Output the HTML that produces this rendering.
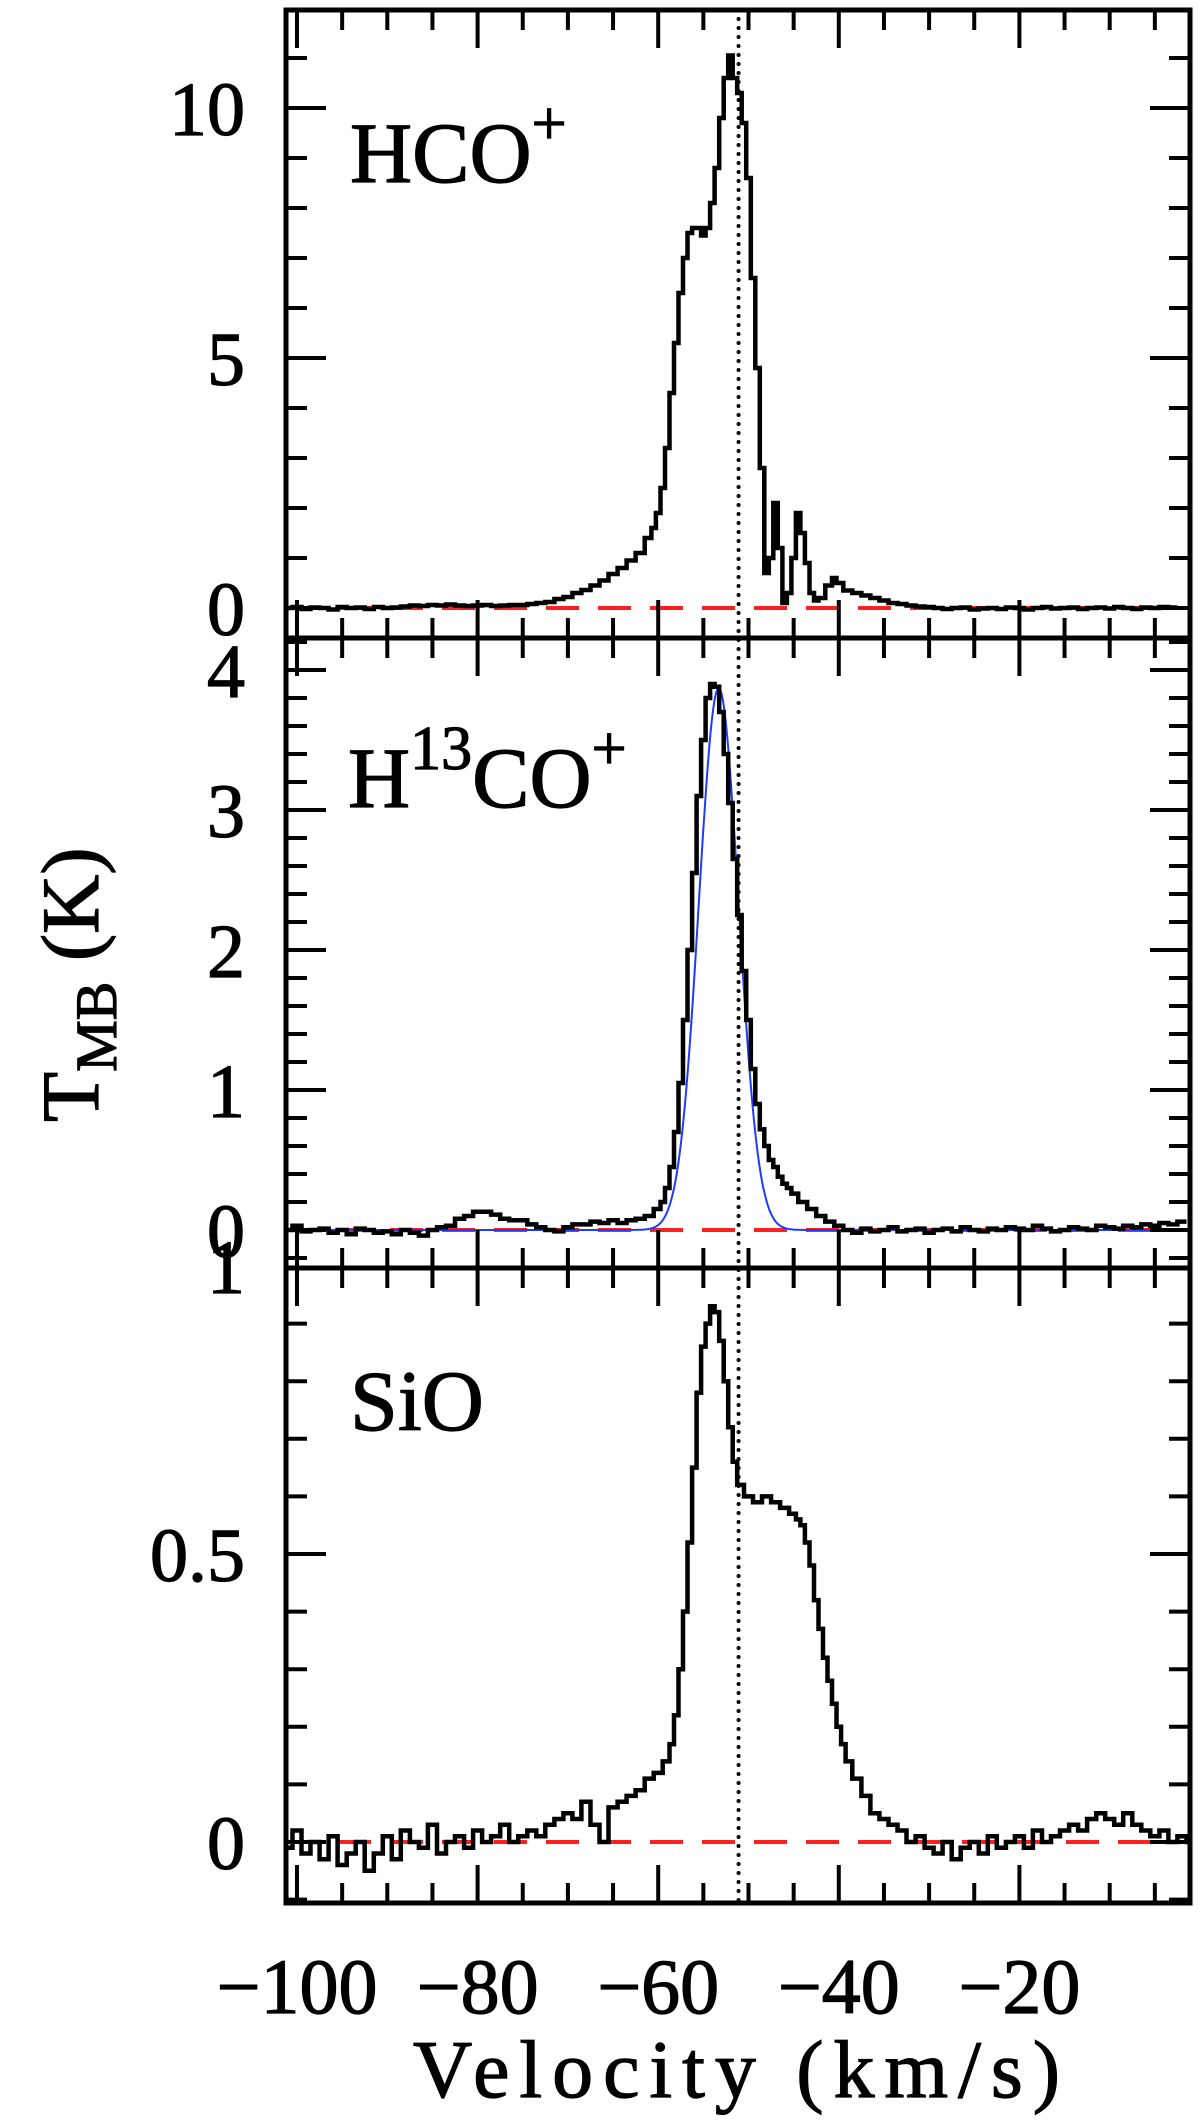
<!DOCTYPE html>
<html><head><meta charset="utf-8"><style>
html,body{margin:0;padding:0;background:#fff;}
svg{display:block;}
text{font-family:"Liberation Serif",serif;fill:#000;stroke:#000;stroke-width:1.2px;}
</style></head><body>
<svg id="chart" width="1200" height="2120" viewBox="0 0 1200 2120" xmlns="http://www.w3.org/2000/svg">
<g id="content"></g>
</svg>
<script>
// ---- data ----
const hcoV = [-101,-100,-99,-98,-97,-96,-95,-94,-93,-92,-91,-90,-89,-88,-87,-86,-85,-84,-83,-82,-81,-80,-79,-78,-77,-76,-75,-74,-73,-72,-71,-70,-69,-68,-67,-66,-65,-64,-63,-62,-61,-60.5,-60,-59.5,-59,-58.5,-58,-57.5,-57,-56.5,-56,-55.5,-55,-54.5,-54,-53.5,-53,-52.5,-52,-51.5,-51,-50.5,-50,-49.5,-49,-48.5,-48,-47.5,-47,-46.5,-46,-45.5,-45,-44.5,-44,-43.5,-43,-42.5,-42,-41,-40.5,-40,-39,-38,-37,-36,-35,-34,-33,-32,-31,-30,-29,-28,-27,-26,-25,-24,-23,-22,-21,-20,-19,-18,-17,-16,-15,-14,-13,-12,-11,-10,-9,-8,-7,-6,-5,-4,-3,-2,-1];
const hcoT = [0.0,0.02,-0.02,0.01,0.0,-0.03,0.02,0.0,0.01,-0.02,0.02,0.0,0.01,0.03,0.05,0.04,0.06,0.05,0.07,0.05,0.04,0.05,0.06,0.04,0.05,0.06,0.06,0.08,0.1,0.12,0.18,0.22,0.3,0.36,0.45,0.55,0.68,0.8,0.95,1.1,1.4,1.6,1.9,2.4,3.2,4.3,5.3,6.3,7.0,7.5,7.6,7.6,7.45,7.6,8.1,8.8,9.8,10.6,11.05,10.6,10.3,9.7,8.6,6.6,4.8,2.8,0.7,1.0,2.1,1.2,0.1,0.3,1.0,1.9,1.5,0.9,0.3,0.15,0.2,0.45,0.6,0.5,0.35,0.3,0.25,0.2,0.15,0.1,0.08,0.05,0.03,0.02,0.0,-0.02,0.0,0.01,-0.03,-0.01,0.0,-0.02,0.01,0.0,-0.03,0.0,0.02,-0.01,0.0,0.01,-0.02,0.0,0.01,-0.01,0.02,0.0,-0.02,0.01,0.0,0.02,0.01];

const h13V = [-101,-100,-99,-98,-97,-96,-95,-94,-93,-92,-91,-90,-89,-88,-87,-86,-85,-84,-83,-82,-81,-80,-79,-78,-77,-76,-75,-74,-73,-72,-71,-70,-69,-68,-67,-66,-65,-64,-63,-62,-61,-60,-59.5,-59,-58.5,-58,-57.5,-57,-56.5,-56,-55.5,-55,-54.5,-54,-53.5,-53,-52.5,-52,-51.5,-51,-50.5,-50,-49.5,-49,-48.5,-48,-47.5,-47,-46.5,-46,-45.5,-45,-44,-43,-42,-41,-40,-39,-38,-37,-36,-35,-34,-33,-32,-31,-30,-29,-28,-27,-26,-25,-24,-23,-22,-21,-20,-19,-18,-17,-16,-15,-14,-13,-12,-11,-10,-9,-8,-7,-6,-5,-4,-3,-2,-1];
const h13T = [0.0,0.03,-0.01,0.0,0.01,-0.02,0.0,-0.03,0.01,0.0,-0.02,-0.01,-0.03,0.0,-0.02,-0.04,0.0,0.02,0.03,0.08,0.1,0.13,0.13,0.11,0.08,0.07,0.07,0.04,0.02,0.0,-0.01,0.02,0.04,0.04,0.06,0.05,0.07,0.05,0.07,0.08,0.1,0.15,0.2,0.3,0.45,0.7,1.05,1.5,2.0,2.55,3.1,3.5,3.8,3.9,3.88,3.7,3.4,3.05,2.65,2.25,1.85,1.5,1.15,0.9,0.72,0.6,0.5,0.45,0.38,0.33,0.3,0.26,0.2,0.15,0.1,0.06,0.03,0.0,-0.02,0.01,-0.01,0.0,0.02,-0.01,0.0,0.01,-0.02,0.0,0.01,-0.01,0.02,0.0,-0.01,0.01,0.0,0.02,0.01,0.0,0.03,0.01,-0.01,0.0,0.02,0.01,0.0,0.03,0.02,0.01,0.03,0.02,0.04,0.03,0.05,0.04,0.06];
// Gaussian fit parameters: amplitude (K), centre (km/s), FWHM (km/s)
const fitAmp = [3.87];
const fitCen = [-53.3];
const fitFwhm = [5.15];

const sioV = [-101,-100,-99,-98,-97,-96,-95,-94,-93,-92,-91,-90,-89,-88,-87,-86,-85,-84,-83,-82,-81,-80,-79,-78,-77,-76,-75,-74,-73,-72,-71,-70,-69,-68,-67,-66,-65,-64,-63,-62,-61,-60,-59,-58.5,-58,-57.5,-57,-56.5,-56,-55.5,-55,-54.5,-54,-53.5,-53,-52.5,-52,-51.5,-51,-50,-49,-48,-47,-46,-45,-44.5,-44,-43.5,-43,-42.5,-42,-41.5,-41,-40.5,-40,-39.5,-39,-38,-37,-36,-35,-34,-33,-32,-31,-30,-29,-28,-27,-26,-25,-24,-23,-22,-21,-20,-19,-18,-17,-16,-15,-14,-13,-12,-11,-10,-9,-8,-7,-6,-5,-4,-3,-2,-1];
const sioT = [-0.01,0.02,-0.02,0.0,-0.03,0.01,-0.04,-0.02,0.0,-0.05,-0.02,0.01,-0.03,0.02,0.0,-0.01,0.03,-0.02,0.0,0.01,-0.01,0.02,0.0,0.01,0.03,0.0,0.01,0.02,0.01,0.03,0.04,0.05,0.04,0.07,0.03,0.0,0.06,0.07,0.08,0.09,0.11,0.12,0.14,0.17,0.22,0.3,0.4,0.52,0.65,0.78,0.86,0.9,0.93,0.92,0.87,0.8,0.72,0.66,0.62,0.6,0.59,0.6,0.59,0.58,0.57,0.56,0.55,0.52,0.48,0.42,0.37,0.32,0.28,0.24,0.2,0.17,0.14,0.11,0.08,0.05,0.04,0.03,0.02,0.0,0.01,-0.01,-0.02,0.0,-0.03,-0.01,0.0,-0.02,0.01,-0.01,0.0,0.01,-0.01,0.02,0.0,0.01,0.02,0.03,0.02,0.04,0.05,0.04,0.03,0.05,0.03,0.02,0.01,0.02,0.0,0.01,0.0];

const xTickVals = [-100,-80,-60,-40,-20];
const xTickLabels = ["\u2212100","\u221280","\u221260","\u221240","\u221220"];
const hcoTicks = [0,5,10];
const h13Ticks = [0,1,2,3,4];
const sioTicks = [0,0.5,1];
const sioTickLabels = ["0","0.5","1"];
const vSys = [-51.1];

// ---- layout ----
const L = 286, R = 1190;
const xS = v => 297 + (v + 100) * 9.03;
const NS = "http://www.w3.org/2000/svg";
const root = document.getElementById('content');
function mk(tag, attrs, parent) {
  const e = document.createElementNS(NS, tag);
  for (const k in attrs) e.setAttribute(k, attrs[k]);
  (parent || root).appendChild(e);
  return e;
}
const panels = [
  {name:'hco', top:10, bot:638, y0:608, k:50, min:-0.6, max:11.96, minor:1, major:5, ticks:hcoTicks, labels:hcoTicks.map(String), v:hcoV, t:hcoT},
  {name:'h13co', top:638, bot:1268, y0:1230, k:140, min:-0.27, max:4.23, minor:0.2, major:1, ticks:h13Ticks, labels:h13Ticks.map(String), v:h13V, t:h13T},
  {name:'sio', top:1268, bot:1903, y0:1842, k:576, min:-0.106, max:0.997, minor:0.1, major:0.5, ticks:sioTicks, labels:sioTickLabels, v:sioV, t:sioT}
];

panels.forEach(p => {
  const g = mk('g', {});
  
  
  const yS = T => p.y0 - T * p.k;
  const z = mk('line', {x1:L, x2:R, y1:yS(0), y2:yS(0), stroke:'#ff2020', 'stroke-width':4, 'stroke-dasharray':'33 19'}, g);
  
  
  if (p.name === 'h13co') {
    let d = '';
    const sig = fitFwhm[0] / 2.3548;
    for (let v = -101.2; v <= -1.1; v += 0.1) {
      const T = fitAmp[0] * Math.exp(-0.5 * Math.pow((v - fitCen[0]) / sig, 2));
      d += (d ? 'L' : 'M') + xS(v).toFixed(1) + ',' + yS(T).toFixed(1);
    }
    const f = mk('path', {d:d, fill:'none', stroke:'#1e3cff', 'stroke-width':2}, g);
    
    
  }
  let d = '';
  for (let i = 0; i < p.v.length; i++) {
    const left = i === 0 ? -101.2 : (p.v[i-1] + p.v[i]) / 2;
    const right = i === p.v.length - 1 ? -1.1 : (p.v[i] + p.v[i+1]) / 2;
    const y = yS(p.t[i]).toFixed(1);
    d += (i === 0 ? 'M' : 'L') + xS(left).toFixed(1) + ',' + y + 'L' + xS(right).toFixed(1) + ',' + y;
  }
  const s = mk('path', {d:d, fill:'none', stroke:'#000', 'stroke-width':4.5, 'stroke-linejoin':'miter'}, g);
  
  
  const fr = mk('rect', {x:L, y:p.top, width:R-L, height:p.bot-p.top, fill:'none', stroke:'#000', 'stroke-width':5}, g);
  
  
  for (let v = -100; v <= -2; v += 5) {
    const maj = v % 20 === 0;
    const len = maj ? 38 : 20;
    const x = xS(v);
    mk('line', {x1:x, x2:x, y1:p.top, y2:p.top+len, stroke:'#000', 'stroke-width':4}, g);
    mk('line', {x1:x, x2:x, y1:p.bot, y2:p.bot-len, stroke:'#000', 'stroke-width':4}, g);
  }
  const n0 = Math.ceil(p.min / p.minor - 1e-6), n1 = Math.floor(p.max / p.minor + 1e-6);
  for (let n = n0; n <= n1; n++) {
    const T = n * p.minor;
    const maj = Math.abs(T / p.major - Math.round(T / p.major)) < 1e-6;
    const len = maj ? 40 : 21;
    const y = yS(T);
    mk('line', {x1:L, x2:L+len, y1:y, y2:y, stroke:'#000', 'stroke-width':4}, g);
    mk('line', {x1:R, x2:R-len, y1:y, y2:y, stroke:'#000', 'stroke-width':4}, g);
  }
  p.ticks.forEach((T, i) => {
    const t = mk('text', {x:245, y:yS(T)+27, 'font-size':76, 'text-anchor':'end'}, g);
    t.textContent = p.labels[i];
    
    
  });
});

const vl = mk('line', {x1:xS(vSys[0]), x2:xS(vSys[0]), y1:10, y2:1903, stroke:'#000', 'stroke-width':4, 'stroke-dasharray':'0 9', 'stroke-linecap':'round'});



xTickVals.forEach((v, i) => {
  const t = mk('text', {x:xS(v), y:2013, 'font-size':78, 'text-anchor':'middle'});
  t.textContent = xTickLabels[i];
  
  
});
</script>
<svg style="position:absolute;left:0;top:0" width="1200" height="2120">
  <text x="350" y="182" font-size="86">HCO<tspan dy="-38" font-size="62">+</tspan></text>
  <text x="348" y="807" font-size="86">H<tspan dy="-38" font-size="62">13</tspan><tspan dy="38">CO</tspan><tspan dy="-38" font-size="62">+</tspan></text>
  <text x="350" y="1430" font-size="86">SiO</text>
  <text x="413" y="2097" font-size="82" textLength="647" lengthAdjust="spacing">Velocity (km/s)</text>
  <text transform="translate(98,1122) rotate(-90)" font-size="82">T<tspan dy="18" font-size="58">MB</tspan><tspan dy="-18"> (K)</tspan></text>
</svg>
</body></html>
